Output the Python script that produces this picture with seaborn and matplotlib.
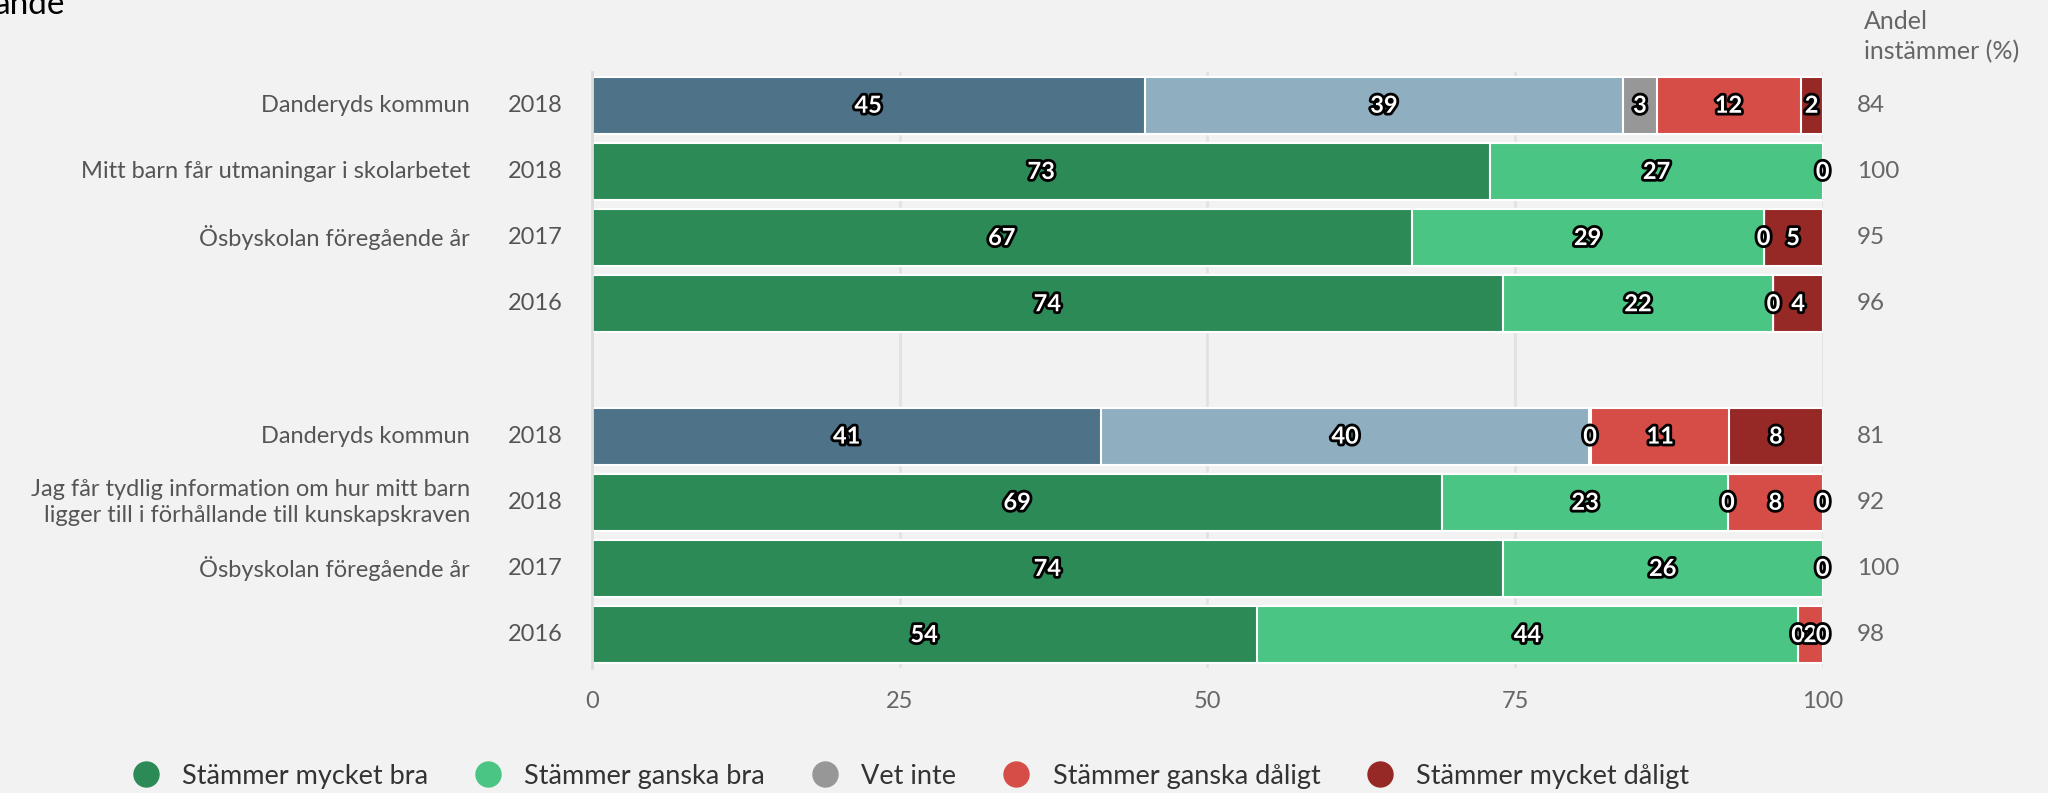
import numpy as np
import pandas as pd
import matplotlib
matplotlib.use("Agg")
import matplotlib.pyplot as plt
import matplotlib.patheffects as pe
from matplotlib.lines import Line2D
from matplotlib.transforms import blended_transform_factory
import seaborn as sns

nan = np.nan

# rows from top to bottom, "gap" is the empty slot between the two questions
rows = ["r1", "r2", "r3", "r4", "gap", "r5", "r6", "r7", "r8"]
row_labels = ["Danderyds kommun", "Mitt barn får utmaningar i skolarbetet", "Ösbyskolan föregående år", "",
              "", "Danderyds kommun",
              "Jag får tydlig information om hur mitt barn\nligger till i förhållande till kunskapskraven",
              "Ösbyskolan föregående år", ""]
years = ["2018", "2018", "2017", "2016", "", "2018", "2018", "2017", "2016"]
andel = ["84", "100", "95", "96", "", "81", "92", "100", "98"]
kommun = [True, False, False, False, True, False, False, False]

segments = ["Stämmer mycket bra", "Stämmer ganska bra", "Vet inte",
            "Stämmer ganska dåligt", "Stämmer mycket dåligt"]
# shares in percent (unrounded estimates, labels show them rounded)
mycket_bra = [44.9, 73.0, 66.6, 74.0, 41.4, 69.1, 74.0, 54.0]
ganska_bra = [38.9, 27.0, 28.6, 22.0, 39.6, 23.2, 26.0, 44.0]
vet_inte = [2.7, 0, 0, 0, 0.2, 0, 0, 0]
ganska_daligt = [11.7, nan, nan, nan, 11.2, 7.7, nan, 2.0]
mycket_daligt = [1.8, nan, 4.8, 4.0, 7.6, 0, nan, 0]

seg_colors = ["#2b8a55", "#4bc583", "#979797", "#d64c47", "#962826"]
kommun_colors = ["#4e7389", "#8fafc1", "#979797", "#d64c47", "#962826"]

sns.set_style("white")
plt.rcParams["font.family"] = ["Lato", "DejaVu Sans"]
bg = "#f2f2f2"

fig = plt.figure(figsize=(20.48, 7.93), dpi=100, facecolor=bg)
ax = fig.add_axes([0.289, 0.158, 0.601, 0.751], facecolor=bg)

data_rows = [r for r in rows if r != "gap"]
vals = np.array([mycket_bra, ganska_bra, vet_inte, ganska_daligt, mycket_daligt], dtype=float)
cum = np.nancumsum(vals, axis=0)

# stacked bars: draw cumulative totals from the last segment back to the first
for k in reversed(range(len(segments))):
    df = pd.DataFrame({"row": data_rows, "x": cum[k]})
    pal = {r: (kommun_colors[k] if kommun[i] else seg_colors[k]) for i, r in enumerate(data_rows)}
    sns.barplot(data=df, x="x", y="row", hue="row", palette=pal, order=rows, hue_order=data_rows,
                dodge=False, legend=False, width=0.86, saturation=1, edgecolor="white",
                linewidth=1.5, ax=ax, zorder=2)

# value labels
for k in range(len(segments)):
    for i, r in enumerate(data_rows):
        v = vals[k][i]
        if np.isnan(v):
            continue
        ax.text(cum[k][i] - v / 2, rows.index(r), f"{v:.0f}", ha="center", va="center",
                color="white", fontsize=17, fontweight="bold", zorder=5,
                path_effects=[pe.withStroke(linewidth=4, foreground="black")])

ax.set_xlim(0, 100)
ax.set_ylim(8.5, -0.5)
ax.set_xlabel("")
ax.set_ylabel("")
ax.set_xticks([0, 25, 50, 75, 100])
ax.tick_params(axis="x", length=0, pad=17, labelsize=17, labelcolor="#666666")
ax.set_yticks(np.arange(-0.5, 9, 1))
ax.set_yticklabels([])
ax.tick_params(axis="y", length=20, width=2, color="#cfd9ec")
ax.grid(axis="x", color="#e2e2e2", lw=2)
ax.set_axisbelow(True)
for s in ["top", "right", "bottom"]:
    ax.spines[s].set_visible(False)
ax.spines["left"].set_color("#dddddd")
ax.spines["left"].set_linewidth(2)

# row labels, years and share column
tr = blended_transform_factory(ax.transAxes, ax.transData)
for i, r in enumerate(rows):
    ax.text(-0.099, i, row_labels[i], transform=tr, ha="right", va="center",
            fontsize=17, color="#555555", linespacing=1.3)
    ax.text(-0.046, i, years[i], transform=tr, ha="center", va="center",
            fontsize=17, color="#555555")
    ax.text(1.0276, i, andel[i], transform=tr, ha="left", va="center",
            fontsize=17.5, color="#666666")

fig.text(1864 / 2048, 1 - 37 / 793, "Andel\ninstämmer (%)", ha="left", va="center",
         fontsize=18, color="#666666", linespacing=1.35)
fig.text(-0.003, 1 - 14 / 793, "ande", ha="left", va="baseline", fontsize=24, color="black")

handles = [Line2D([], [], marker="o", ls="", markersize=18, color=c) for c in seg_colors]
fig.legend(handles, segments, loc="center left", bbox_to_anchor=(0.046, 0.021), ncol=5,
           frameon=False, fontsize=19.5, handletextpad=0.35, columnspacing=1.2,
           labelcolor="#333333")

fig.savefig("out.png", dpi=100, facecolor=bg)
